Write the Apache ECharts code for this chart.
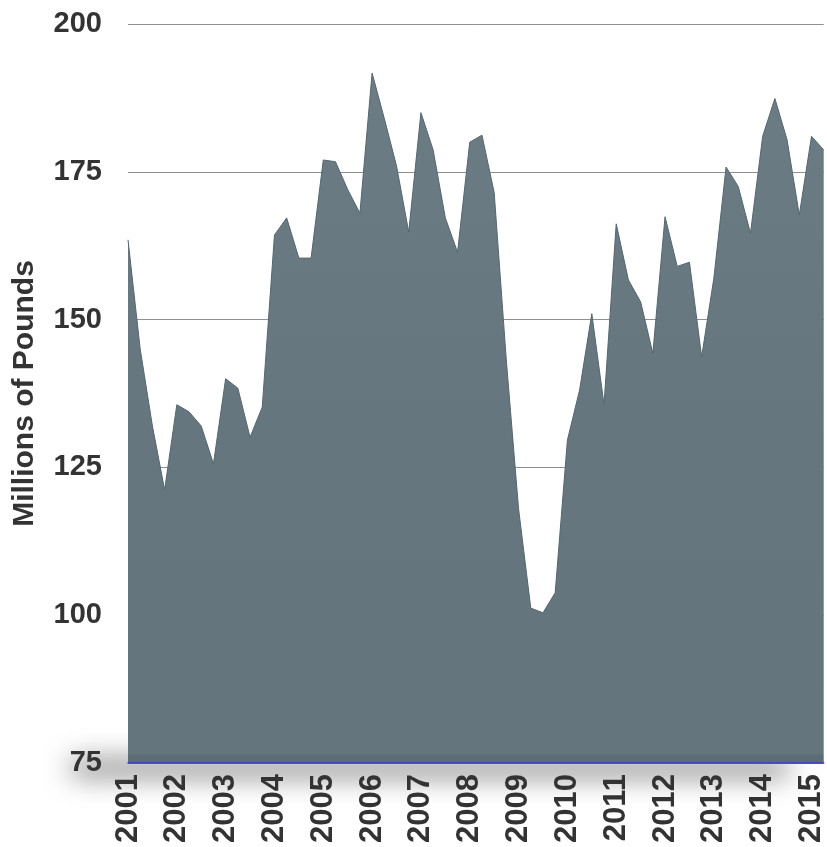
<!DOCTYPE html>
<html>
<head>
<meta charset="utf-8">
<title>Millions of Pounds, quarterly 2001–2015</title>
<script src="https://cdn.jsdelivr.net/npm/echarts@6/dist/echarts.min.js"></script>
<style>
  html, body { margin: 0; padding: 0; background: #ffffff; }
  #chart { width: 827px; height: 847px; }
</style>
</head>
<body>
<div id="chart"></div>
<script>
// Year labels along the bottom axis
const years = ['2001', '2002', '2003', '2004', '2005', '2006', '2007', '2008',
               '2009', '2010', '2011', '2012', '2013', '2014', '2015'];

// Quarterly volume, millions of pounds (2001 Q1 .. 2015 Q2)
const pounds = [
  163.5, 145.0, 132.0, 121.2,   // 2001
  135.6, 134.4, 132.0, 125.6,   // 2002
  140.0, 138.4, 130.1, 135.2,   // 2003
  164.3, 167.2, 160.4, 160.4,   // 2004
  177.0, 176.7, 172.0, 168.0,   // 2005
  191.7, 184.0, 176.0, 164.8,   // 2006
  185.0, 178.7, 167.2, 161.4,   // 2007
  180.0, 181.2, 171.5, 143.0,   // 2008
  118.0, 101.2, 100.4, 103.8,   // 2009
  129.6, 138.1, 151.0, 135.6,   // 2010
  166.2, 156.7, 153.0, 144.3,   // 2011
  167.4, 159.0, 159.7, 143.7,   // 2012
  157.0, 175.8, 172.5, 164.6,   // 2013
  181.0, 187.4, 180.4, 167.7,   // 2014
  181.0, 178.7                  // 2015
];

// Y-axis tick values
const yTicks = [75, 100, 125, 150, 175, 200];

// One category per quarter, built from the year list
const quarters = [];
years.forEach(y => { for (let q = 1; q <= 4; q++) quarters.push(y + ' Q' + q); });
const categories = quarters.slice(0, pounds.length);

const font = "'Liberation Sans', Arial, Helvetica, sans-serif";
const textColor = '#333333';

const chart = echarts.init(document.getElementById('chart'), null, { renderer: 'canvas' });

// The floor shadow: the block sits well above the canvas and only its
// blurred, offset shadow lands under the axis line.
const shadowLift = 1200;

chart.setOption({
  backgroundColor: '#ffffff',
  animation: false,
  grid: { left: 128, right: 0, top: 24, bottom: 84, containLabel: false },
  graphic: [
    {
      type: 'rect',
      z: -10,
      silent: true,
      shape: { x: 70, y: 761 - shadowLift, width: 720, height: 14, r: 7 },
      style: {
        fill: '#000000',
        shadowBlur: 28,
        shadowOffsetY: shadowLift,
        shadowColor: 'rgba(0,0,0,0.6)'
      }
    }
  ],
  xAxis: {
    type: 'category',
    data: categories,
    boundaryGap: false,
    axisLine: { show: true, lineStyle: { color: '#3b3bd4', width: 1.5 } },
    axisTick: { show: false },
    splitLine: { show: false },
    axisLabel: {
      interval: 3,
      rotate: 90,
      margin: 11,
      fontFamily: font,
      fontSize: 31,
      fontWeight: 'bold',
      color: textColor,
      formatter: v => v.slice(0, 4)
    },
    z: 5
  },
  yAxis: {
    type: 'value',
    min: yTicks[0],
    max: yTicks[yTicks.length - 1],
    interval: 25,
    name: 'Millions of Pounds',
    nameLocation: 'middle',
    nameGap: 88,
    nameTextStyle: {
      fontFamily: font,
      fontSize: 30,
      fontWeight: 'bold',
      color: textColor
    },
    axisLine: { show: false },
    axisTick: { show: false },
    axisLabel: {
      margin: 26,
      fontFamily: font,
      fontSize: 29,
      fontWeight: 'bold',
      color: textColor
    },
    splitLine: { show: true, lineStyle: { color: '#8f8f8f', width: 1 } }
  },
  series: [
    {
      type: 'line',
      data: pounds,
      symbol: 'none',
      smooth: false,
      lineStyle: { color: '#56666e', width: 1 },
      areaStyle: {
        opacity: 1,
        color: {
          type: 'linear', x: 0, y: 0, x2: 0, y2: 1,
          colorStops: [
            { offset: 0, color: '#6b7c85' },
            { offset: 0.5, color: '#65767e' },
            { offset: 0.985, color: '#64757d' },
            { offset: 0.99, color: '#5c6c75' },
            { offset: 1, color: '#5c6c75' }
          ]
        }
      }
    }
  ]
});
</script>
</body>
</html>
